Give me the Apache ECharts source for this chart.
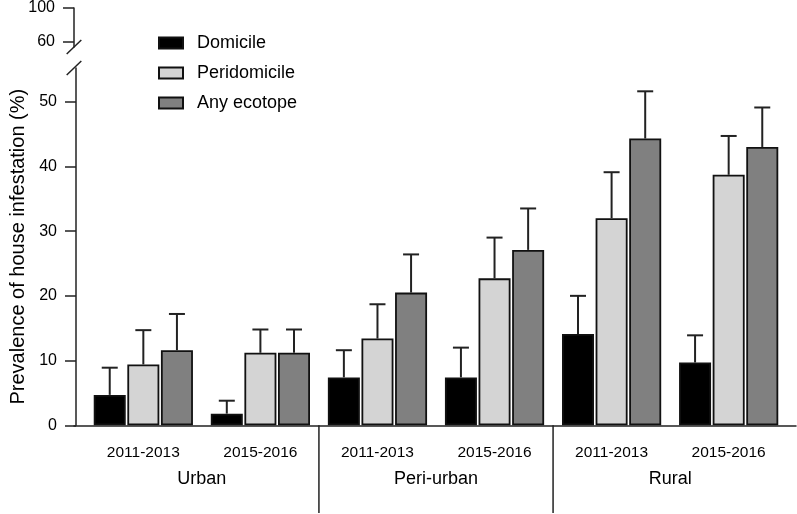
<!DOCTYPE html>
<html>
<head>
<meta charset="utf-8">
<script src="https://cdn.jsdelivr.net/npm/echarts@6/dist/echarts.min.js"></script>
<style>html,body{margin:0;padding:0;background:#fff}#c{width:797px;height:514px}</style>
</head>
<body>
<div id="c"></div>
<script>
const categories = ['2011-2013', '2015-2016', '2011-2013', '2015-2016', '2011-2013', '2015-2016'];
const groups = ['Urban', 'Peri-urban', 'Rural'];
const seriesNames = ['Domicile', 'Peridomicile', 'Any ecotope'];
const domicile = [4.7, 1.8, 7.4, 7.4, 14.1, 9.7];
const domicileUpper = [8.9, 3.8, 11.6, 12.0, 20.0, 13.9];
const peridomicile = [9.4, 11.2, 13.4, 22.7, 32.0, 38.7];
const peridomicileUpper = [14.7, 14.8, 18.7, 29.0, 39.1, 44.7];
const anyEcotope = [11.6, 11.2, 20.5, 27.1, 44.3, 43.0];
const anyEcotopeUpper = [17.2, 14.8, 26.4, 33.5, 51.6, 49.1];
const lowerTicks = [0, 10, 20, 30, 40, 50];
const upperTicks = [60, 100];

const FONT = 'Liberation Sans, Arial, sans-serif';
const colors = ['#000000', '#d4d4d4', '#808080'];
const BAR_W = 32, BAR_GAP = 0.05;
const values = [domicile, peridomicile, anyEcotope];
const uppers = [domicileUpper, peridomicileUpper, anyEcotopeUpper];

const chart = echarts.init(document.getElementById('c'), null, {renderer: 'canvas'});

const barSeries = seriesNames.map((n, i) => ({
  name: n, type: 'bar', xAxisIndex: 0, yAxisIndex: 0,
  data: values[i], barWidth: BAR_W, barGap: (BAR_GAP * 100) + '%',
  itemStyle: {color: colors[i], borderColor: '#111', borderWidth: 1.8},
  emphasis: {disabled: true}, z: 2
}));

const errSeries = seriesNames.map((n, i) => ({
  name: n + ' error', type: 'custom', xAxisIndex: 0, yAxisIndex: 0, z: 3,
  data: categories.map((c, k) => [k, values[i][k], uppers[i][k]]),
  renderItem: function (params, api) {
    const off = (i - 1) * BAR_W * (1 + BAR_GAP);
    const x = api.coord([api.value(0), 0])[0] + off;
    const yb = api.coord([api.value(0), api.value(1)])[1];
    const yt = api.coord([api.value(0), api.value(2)])[1];
    const st = {stroke: '#222', lineWidth: 2};
    return {type: 'group', children: [
      {type: 'line', shape: {x1: x, y1: yb, x2: x, y2: yt}, style: st},
      {type: 'line', shape: {x1: x - 8, y1: yt, x2: x + 8, y2: yt}, style: st}
    ]};
  }
}));

const axisLineStyle = {color: '#222', width: 1.5};
const option = {
  animation: false,
  backgroundColor: '#fff',
  textStyle: {fontFamily: FONT},
  legend: {
    data: seriesNames, orient: 'vertical', left: 158, top: 34, padding: 0,
    itemWidth: 24, itemHeight: 11, itemGap: 12, icon: 'rect',
    textStyle: {fontSize: 18, color: '#000', fontFamily: FONT, padding: [0, 0, 0, 9]}
  },
  grid: [
    {left: 82.8, right: 9.8, top: 68, bottom: 88.7},
    {left: 74, right: 1, top: 68, bottom: 88.7},
    {left: 74, right: 1, top: 6, height: 41}
  ],
  xAxis: [
    {type: 'category', gridIndex: 0, data: categories, position: 'bottom',
     axisLine: {show: false},
     axisTick: {alignWithLabel: true, length: 12, lineStyle: axisLineStyle},
     axisLabel: {fontSize: 15.5, color: '#000', margin: 19, fontFamily: FONT}},
    {type: 'category', gridIndex: 0, data: groups, position: 'bottom',
     axisLine: {show: false}, axisTick: {show: false},
     axisLabel: {fontSize: 18, color: '#000', margin: 45, fontFamily: FONT}},
    {type: 'value', gridIndex: 1, min: 0, max: 1, position: 'bottom',
     axisLine: {show: true, onZero: false, lineStyle: axisLineStyle},
     axisTick: {show: false}, axisLabel: {show: false}, splitLine: {show: false}},
    {type: 'value', gridIndex: 2, min: 0, max: 1, show: false}
  ],
  yAxis: [
    {type: 'value', gridIndex: 0, min: 0, max: 55.2, offset: 8.8,
     name: 'Prevalence of house infestation (%)', nameLocation: 'middle', nameGap: 48,
     nameTextStyle: {fontSize: 20, color: '#000', fontFamily: FONT},
     axisLine: {show: true, lineStyle: axisLineStyle},
     axisTick: {show: true, length: 11, lineStyle: axisLineStyle, customValues: lowerTicks},
     axisLabel: {fontSize: 16, color: '#000', margin: 19, fontFamily: FONT, customValues: lowerTicks},
     splitLine: {show: false}},
    {type: 'value', gridIndex: 1, min: 0, max: 1, show: false},
    {type: 'value', gridIndex: 2, min: 54, max: 100,
     axisLine: {show: true, lineStyle: axisLineStyle},
     axisTick: {show: true, length: 11, lineStyle: axisLineStyle, customValues: upperTicks},
     axisLabel: {fontSize: 16, color: '#000', margin: 19, fontFamily: FONT, customValues: upperTicks},
     splitLine: {show: false}}
  ],
  series: barSeries.concat(errSeries)
};
chart.setOption(option);

// decorations: axis-break slashes and group dividers, positioned from the library's scales
const yTopLow = chart.convertToPixel({yAxisIndex: 0}, 55.2);
const yBotUp = chart.convertToPixel({yAxisIndex: 2}, 54);
const yZero = chart.convertToPixel({yAxisIndex: 0}, 0);
const axX = chart.convertToPixel({xAxisIndex: 2}, 0);
const xc = i => chart.convertToPixel({xAxisIndex: 0}, i);
const slash = (cy) => ({type: 'line', shape: {x1: axX - 7.3, y1: cy + 7, x2: axX + 7.3, y2: cy - 7},
  style: {stroke: '#222', lineWidth: 1.5}});
const divider = (x) => ({type: 'line', shape: {x1: x, y1: yZero, x2: x, y2: 513},
  style: {stroke: '#222', lineWidth: 1.5}});
chart.setOption({graphic: [
  slash(yBotUp), slash(yTopLow),
  divider((xc(1) + xc(2)) / 2), divider((xc(3) + xc(4)) / 2)
]});
</script>
</body>
</html>
